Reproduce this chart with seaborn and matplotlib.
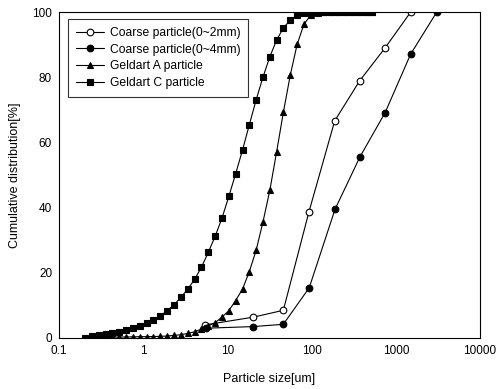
import numpy as np
import pandas as pd
import matplotlib
matplotlib.use("Agg")
import matplotlib.pyplot as plt
import seaborn as sns

# ---- data ----
coarse2_size = [5.4, 20.3, 46.1, 93, 188, 372, 745, 1500]
coarse2_cum = [3.9, 6.3, 8.4, 38.7, 66.6, 78.9, 89.0, 100]

coarse4_size = [5.5, 20.3, 46.1, 93.5, 190, 376, 745, 1500, 3060]
coarse4_cum = [2.9, 3.4, 4.1, 15.3, 39.5, 55.6, 69.1, 87.1, 100]

fine_size = [0.204, 0.246, 0.296, 0.357, 0.431, 0.519, 0.626, 0.755, 0.910,
             1.10, 1.32, 1.60, 1.93, 2.32, 2.80, 3.38, 4.07, 4.91, 5.92,
             7.14, 8.61, 10.4, 12.5, 15.1, 18.2, 21.9, 26.4, 31.9, 38.4,
             46.3, 55.8, 67.3, 81.2, 97.9, 118, 142, 172, 207, 249, 301,
             362, 437, 527]

geldart_a_cum = [0, 0.05, 0.1, 0.1, 0.15, 0.2, 0.2, 0.25, 0.3, 0.3, 0.35,
                 0.4, 0.5, 0.7, 0.9, 1.3, 1.8, 2.6, 3.6, 4.6, 6.3, 8.3,
                 11.4, 14.9, 20.3, 26.8, 35.5, 45.3, 57.1, 69.4, 80.7,
                 90.1, 96.3, 99.1, 99.8, 100, 100, 100, 100, 100, 100,
                 100, 100]

geldart_c_cum = [0, 0.5, 0.7, 1.0, 1.3, 1.7, 2.4, 2.9, 3.6, 4.4, 5.4, 6.7,
                 8.3, 10.1, 12.4, 14.9, 17.9, 21.6, 26.2, 31.1, 36.7, 43.4,
                 50.3, 57.6, 65.4, 73.0, 80.0, 86.3, 91.4, 95.2, 97.5, 99.1,
                 99.6, 99.8, 100, 100, 100, 100, 100, 100, 100, 100, 100]

x_ticks = [0.1, 1, 10, 100, 1000, 10000]
x_tick_labels = ["0.1", "1", "10", "100", "1000", "10000"]
y_ticks = [0, 20, 40, 60, 80, 100]

# ---- style ----
sns.set_style("white")
plt.rcParams['font.family'] = ['Liberation Sans', 'DejaVu Sans']
plt.rcParams['text.color'] = 'black'
plt.rcParams['axes.labelcolor'] = 'black'
plt.rcParams['xtick.color'] = 'black'
plt.rcParams['ytick.color'] = 'black'

fig = plt.figure(figsize=(4.98, 3.89), dpi=100)
ax = fig.add_axes([0.1185, 0.132, 0.8455, 0.837])

line_kw = dict(color="black", linewidth=0.8, markeredgecolor="black",
               markeredgewidth=0.8)

sns.lineplot(x=coarse2_size, y=coarse2_cum, ax=ax, marker="o",
             markersize=4.8, markerfacecolor="white",
             label="Coarse particle(0~2mm)", **line_kw)
sns.lineplot(x=coarse4_size, y=coarse4_cum, ax=ax, marker="o",
             markersize=4.8, markerfacecolor="black",
             label="Coarse particle(0~4mm)", **line_kw)
sns.lineplot(x=fine_size, y=geldart_a_cum, ax=ax, marker="^",
             markersize=4.8, markerfacecolor="black",
             label="Geldart A particle", **line_kw)
sns.lineplot(x=fine_size, y=geldart_c_cum, ax=ax, marker="s",
             markersize=4.4, markerfacecolor="black",
             label="Geldart C particle", **line_kw)

ax.set_xscale("log")
ax.set_xlim(0.1, 10000)
ax.set_ylim(0, 100)
ax.set_xticks(x_ticks)
ax.set_xticklabels(x_tick_labels)
ax.xaxis.set_minor_locator(matplotlib.ticker.NullLocator())
ax.set_yticks(y_ticks)
ax.tick_params(axis="x", direction="in", length=4, width=0.8,
               labelsize=8.5, pad=5)
ax.tick_params(axis="y", direction="in", length=0, labelsize=8.5, pad=5)

for s in ax.spines.values():
    s.set_color("black")
    s.set_linewidth(0.8)

ax.set_xlabel("Particle size[um]", fontsize=9, labelpad=12)
ax.set_ylabel("Cumulative distribution[%]", fontsize=9, labelpad=8)

leg = ax.legend(loc="upper left", bbox_to_anchor=(0.022, 0.978), fontsize=8.7,
                frameon=True, fancybox=False, edgecolor="black",
                handlelength=2.3, handletextpad=0.5, labelspacing=0.38,
                borderpad=0.65, borderaxespad=0)
leg.get_frame().set_linewidth(0.8)

fig.savefig("out.png", dpi=100)
